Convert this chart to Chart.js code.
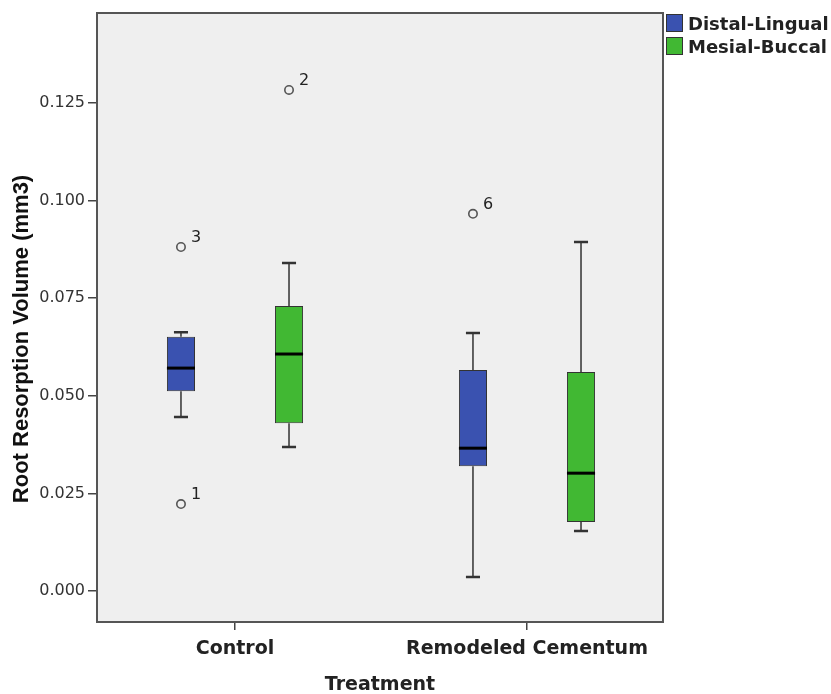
<!DOCTYPE html>
<html>
<head>
<meta charset="utf-8">
<script src="https://cdn.jsdelivr.net/npm/chart.js@4/dist/chart.umd.min.js"></script>
<style>
  html, body { margin: 0; padding: 0; background: #fff; }
  #wrap { position: relative; width: 831px; height: 694px; }
</style>
</head>
<body>
<div id="wrap"><canvas id="box-chart"></canvas></div>
<script>
// Data
const categories = ['Control', 'Remodeled Cementum'];
const categoryPos = [0, 1];
const seriesNames = ['Distal-Lingual', 'Mesial-Buccal'];
const seriesColors = ['#3a52b0', '#41b833'];

const distalMin    = [0.0446, 0.0036];
const distalQ1     = [0.0512, 0.0320];
const distalMedian = [0.0571, 0.0366];
const distalQ3     = [0.0651, 0.0566];
const distalMax    = [0.0663, 0.0661];
const distalOutliers   = [[0.0881, 0.0223], [0.0966]];
const distalOutlierIds = [['3', '1'], ['6']];

const mesialMin    = [0.0369, 0.0154];
const mesialQ1     = [0.0430, 0.0177];
const mesialMedian = [0.0607, 0.0302];
const mesialQ3     = [0.0730, 0.0561];
const mesialMax    = [0.0840, 0.0894];
const mesialOutliers   = [[0.1283], []];
const mesialOutlierIds = [['2'], []];

const yTicks = [0, 0.025, 0.05, 0.075, 0.1, 0.125];
const yTitle = 'Root Resorption Volume (mm3)';
const xTitle = 'Treatment';

// summary per dataset, used by the plugin below
const stats = [
  { q1: distalQ1, q3: distalQ3, min: distalMin, med: distalMedian, max: distalMax, out: distalOutliers, ids: distalOutlierIds },
  { q1: mesialQ1, q3: mesialQ3, min: mesialMin, med: mesialMedian, max: mesialMax, out: mesialOutliers, ids: mesialOutlierIds }
];

const boxPlugin = {
  id: 'boxplot',
  beforeDraw(chart) {
    const { ctx, chartArea: a } = chart;
    ctx.save();
    ctx.fillStyle = '#efefef';
    ctx.fillRect(a.left, a.top, a.right - a.left, a.bottom - a.top);
    ctx.restore();
  },
  beforeDatasetsDraw(chart) {
    // whiskers go under the boxes
    const { ctx } = chart;
    const y = chart.scales.y;
    ctx.save();
    ctx.strokeStyle = '#333';
    stats.forEach((s, di) => {
      const meta = chart.getDatasetMeta(di);
      meta.data.forEach((bar, i) => {
        const x = bar.x;
        const capHalf = bar.width / 4;
        const yMin = y.getPixelForValue(s.min[i]);
        const yMax = y.getPixelForValue(s.max[i]);
        const yQ1 = y.getPixelForValue(s.q1[i]);
        const yQ3 = y.getPixelForValue(s.q3[i]);
        ctx.lineWidth = 1.5;
        ctx.beginPath();
        ctx.moveTo(x, yMax); ctx.lineTo(x, yQ3);
        ctx.moveTo(x, yQ1); ctx.lineTo(x, yMin);
        ctx.stroke();
        ctx.lineWidth = 2.5;
        ctx.beginPath();
        ctx.moveTo(x - capHalf, yMax); ctx.lineTo(x + capHalf, yMax);
        ctx.moveTo(x - capHalf, yMin); ctx.lineTo(x + capHalf, yMin);
        ctx.stroke();
      });
    });
    ctx.restore();
  },
  afterDatasetsDraw(chart) {
    const { ctx } = chart;
    const y = chart.scales.y;
    ctx.save();
    stats.forEach((s, di) => {
      const meta = chart.getDatasetMeta(di);
      meta.data.forEach((bar, i) => {
        const x = bar.x;
        const half = bar.width / 2;
        // median
        const yMed = y.getPixelForValue(s.med[i]);
        ctx.strokeStyle = '#000';
        ctx.lineWidth = 3;
        ctx.beginPath();
        ctx.moveTo(x - half, yMed); ctx.lineTo(x + half, yMed);
        ctx.stroke();
        // outliers
        s.out[i].forEach((v, k) => {
          const py = y.getPixelForValue(v);
          ctx.strokeStyle = '#555';
          ctx.lineWidth = 1.6;
          ctx.beginPath();
          ctx.arc(x, py, 4.2, 0, Math.PI * 2);
          ctx.stroke();
          ctx.fillStyle = '#222';
          ctx.font = '16px "DejaVu Sans"';
          ctx.textAlign = 'left';
          ctx.textBaseline = 'alphabetic';
          ctx.fillText(s.ids[i][k], x + 10, py - 5);
        });
      });
    });
    ctx.restore();
  },
  afterDraw(chart) {
    const { ctx, chartArea: a } = chart;
    ctx.save();
    // plot frame
    ctx.strokeStyle = '#555';
    ctx.lineWidth = 2;
    ctx.strokeRect(a.left, a.top, a.right - a.left, a.bottom - a.top);
    // y title
    ctx.translate(22, 339);
    ctx.rotate(-Math.PI / 2);
    ctx.fillStyle = '#111';
    ctx.font = 'bold 22px "Liberation Sans"';
    ctx.textAlign = 'center';
    ctx.textBaseline = 'middle';
    ctx.fillText(yTitle, 0, 0);
    ctx.restore();
    // legend
    ctx.save();
    seriesNames.forEach((name, i) => {
      const top = a.top + 1 + i * 23;
      ctx.fillStyle = seriesColors[i];
      ctx.fillRect(a.right + 3, top, 16, 17);
      ctx.strokeStyle = '#333';
      ctx.lineWidth = 1;
      ctx.strokeRect(a.right + 3.5, top + 0.5, 16, 17);
      ctx.fillStyle = '#222';
      ctx.font = 'bold 18px "DejaVu Sans"';
      ctx.textAlign = 'left';
      ctx.textBaseline = 'alphabetic';
      ctx.fillText(name, a.right + 25, top + 16);
    });
    ctx.restore();
  }
};

function boxData(q1, q3) {
  return categoryPos.map((p, i) => ({ x: p, y: [q1[i], q3[i]] }));
}

new Chart(document.getElementById('box-chart'), {
  type: 'bar',
  data: {
    datasets: [
      {
        label: seriesNames[0],
        data: boxData(distalQ1, distalQ3),
        backgroundColor: seriesColors[0],
        borderColor: '#333',
        borderWidth: 1,
        borderSkipped: false
      },
      {
        label: seriesNames[1],
        data: boxData(mesialQ1, mesialQ3),
        backgroundColor: seriesColors[1],
        borderColor: '#333',
        borderWidth: 1,
        borderSkipped: false
      }
    ]
  },
  options: {
    responsive: true,
    maintainAspectRatio: false,
    animation: false,
    categoryPercentage: 0.74,
    barPercentage: 0.26,
    layout: { padding: { top: 13, right: 168, left: 0, bottom: 0 } },
    plugins: {
      legend: { display: false },
      tooltip: { enabled: false }
    },
    scales: {
      x: {
        type: 'linear',
        offset: false,
        min: -0.4726,
        max: 1.4658,
        afterBuildTicks(scale) { scale.ticks = categoryPos.map(v => ({ value: v })); },
        grid: { offset: false, drawOnChartArea: false, drawTicks: true, tickLength: 8, color: '#444', lineWidth: 1.5 },
        border: { display: false },
        ticks: {
          color: '#222', padding: 8, maxRotation: 0, autoSkip: false,
          font: { family: 'DejaVu Sans', size: 19, weight: 'bold' },
          callback: v => categories[v]
        },
        title: { display: true, text: xTitle, color: '#222', padding: { top: 4, bottom: -2 },
                 font: { family: 'DejaVu Sans', size: 19, weight: 'bold' } },
        afterFit(scale) { scale.height = 72; }
      },
      y: {
        min: -0.0079,
        max: 0.148,
        afterBuildTicks(scale) { scale.ticks = yTicks.map(v => ({ value: v })); },
        grid: { drawOnChartArea: false, drawTicks: true, tickLength: 9, color: '#444', lineWidth: 1.5 },
        border: { display: false },
        ticks: {
          color: '#333',
          padding: 3,
          font: { family: 'DejaVu Sans', size: 16 },
          callback: v => v.toFixed(3)
        },
        afterFit(scale) { scale.width = 97; }
      }
    }
  },
  plugins: [boxPlugin]
});
</script>
</body>
</html>
